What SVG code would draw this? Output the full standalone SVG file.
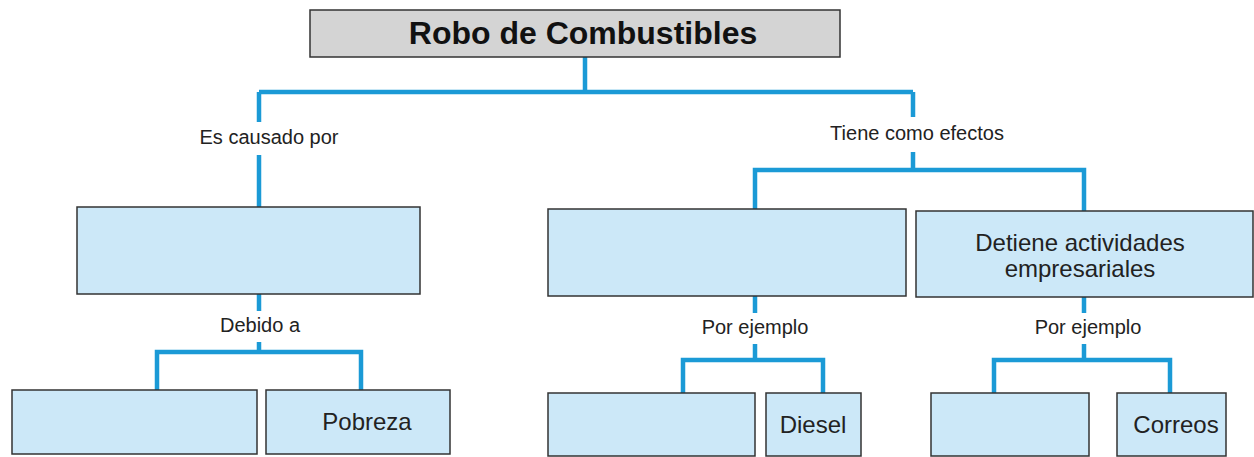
<svg xmlns="http://www.w3.org/2000/svg" width="1254" height="457" viewBox="0 0 1254 457">
<style>
.box{fill:#cce8f8;stroke:#333;stroke-width:1.5}
.title{fill:#d4d4d4;stroke:#333;stroke-width:1.5}
.c{fill:none;stroke:#1b9ad6;stroke-width:4.5;stroke-linecap:butt;stroke-linejoin:miter}
.lbl{font-family:"Liberation Sans",Arial,sans-serif;font-size:20px;fill:#222;text-anchor:middle}
.txt{font-family:"Liberation Sans",Arial,sans-serif;font-size:24px;fill:#222;text-anchor:middle}
.tt{font-family:"Liberation Sans",Arial,sans-serif;font-size:32px;font-weight:bold;fill:#111;text-anchor:middle}
</style>
<rect width="1254" height="457" fill="#fff"/>
<g id="connectors">
<path class="c" d="M585,57 V92 M259,92 H913"/>
<path class="c" d="M259,92 V122 M259,155 V207"/>
<path class="c" d="M913,92 V117 M913,152 V170 M755,209 V170 H1084 V211"/>
<path class="c" d="M259,294 V311 M259,342 V352 M157,390 V352 H361 V390"/>
<path class="c" d="M755,296 V313 M755,344 V360 M683,393 V360 H823 V393"/>
<path class="c" d="M1084,297 V313 M1084,344 V360 M994,393 V360 H1170 V393"/>
<text class="lbl" x="269" y="144">Es causado por</text>
<text class="lbl" x="917" y="140">Tiene como efectos</text>
<text class="lbl" x="260" y="332">Debido a</text>
<text class="lbl" x="755" y="334">Por ejemplo</text>
<text class="lbl" x="1088" y="334">Por ejemplo</text>
</g>
<g id="n-title"><rect class="title" x="310" y="10" width="530" height="47"/><text class="tt" x="583" y="44">Robo de Combustibles</text></g>
<g id="n-causa"><rect class="box" x="77" y="207" width="343" height="87"/></g>
<g id="n-efecto1"><rect class="box" x="548" y="209" width="358" height="87"/></g>
<g id="n-efecto2"><rect class="box" x="916" y="211" width="337" height="86"/><text class="txt" x="1080" y="251">Detiene actividades</text><text class="txt" x="1080" y="277">empresariales</text></g>
<g id="n-c1"><rect class="box" x="12" y="390" width="245" height="64"/></g>
<g id="n-pobreza"><rect class="box" x="266" y="390" width="184" height="64"/><text class="txt" x="367" y="430">Pobreza</text></g>
<g id="n-e1"><rect class="box" x="548" y="393" width="207" height="63"/></g>
<g id="n-diesel"><rect class="box" x="766" y="393" width="95" height="63"/><text class="txt" x="813" y="433">Diesel</text></g>
<g id="n-e2"><rect class="box" x="931" y="393" width="158" height="63"/></g>
<g id="n-correos"><rect class="box" x="1117" y="393" width="109" height="63"/><text class="txt" x="1176" y="433">Correos</text></g>
</svg>
